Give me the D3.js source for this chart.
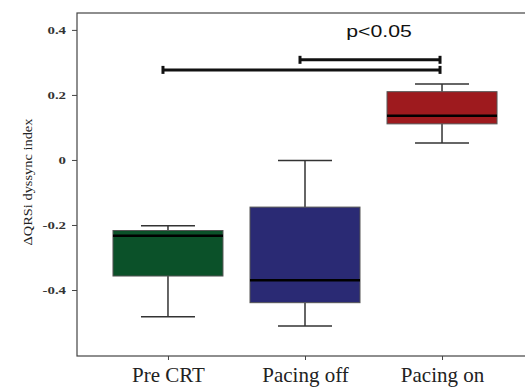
<!DOCTYPE html>
<html>
<head>
<meta charset="utf-8">
<script src="https://cdn.jsdelivr.net/npm/d3@7"></script>
<style>
  body { margin: 0; background: #fff; }
</style>
</head>
<body>
<div id="chart"></div>
<script>
var groups = ["Pre CRT", "Pacing off", "Pacing on"];
var whiskerLow  = [-0.482, -0.511, 0.052];
var boxLow      = [-0.357, -0.439, 0.111];
var medians     = [-0.233, -0.370, 0.136];
var boxHigh     = [-0.217, -0.145, 0.210];
var whiskerHigh = [-0.202, -0.002, 0.234];
var boxColors   = ["#0b5129", "#2a2a74", "#9e1a1e"];
var yTicks = [0.4, 0.2, 0, -0.2, -0.4];
var yTickLabels = ["0.4", "0.2", "0", "-0.2", "-0.4"];
// significance brackets: from, to, height
var sigFrom = ["Pre CRT", "Pacing off"];
var sigTo   = ["Pacing on", "Pacing on"];
var sigY    = [0.277, 0.308];

var width = 525, height = 388;
var plotLeft = 77, plotTop = 13, plotBottom = 356, plotRight = 533;

var svg = d3.select("#chart").append("svg")
  .attr("width", width)
  .attr("height", height);

var x = d3.scalePoint().domain(groups).range([plotLeft, plotRight]).padding(0.664);
var y = d3.scaleLinear().domain([-0.603, 0.452]).range([plotBottom, plotTop]);
var boxW = 110, capW = 54;

// frame
svg.append("rect")
  .attr("x", plotLeft).attr("y", plotTop)
  .attr("width", plotRight - plotLeft).attr("height", plotBottom - plotTop)
  .attr("fill", "none").attr("stroke", "#444").attr("stroke-width", 1.2);

// y axis (labels look horizontally stretched in the original)
var yAxis = svg.append("g")
  .attr("transform", "translate(" + plotLeft + ",0)")
  .call(d3.axisLeft(y).tickValues(yTicks).tickSize(5).tickSizeOuter(0)
    .tickFormat(function (d, i) { return yTickLabels[i]; }));
yAxis.select(".domain").remove();
yAxis.selectAll("line").attr("stroke", "#444");
yAxis.selectAll("text")
  .attr("x", -11 / 1.35).attr("fill", "#333")
  .attr("transform", "scale(1.35,1)")
  .style("font-family", "Liberation Serif, serif")
  .style("font-size", "11px")
  .style("font-weight", "bold");

// x axis
var xAxis = svg.append("g")
  .attr("transform", "translate(0," + plotBottom + ")")
  .call(d3.axisBottom(x).tickSize(4).tickSizeOuter(0));
xAxis.select(".domain").remove();
xAxis.selectAll("line").attr("stroke", "#444");
xAxis.selectAll("text")
  .attr("y", 11).attr("dy", "0.71em").attr("fill", "#222")
  .style("font-family", "Liberation Serif, serif")
  .style("font-size", "21px")
  .style("font-weight", "normal");

// y title
svg.append("text")
  .attr("transform", "translate(32,182) rotate(-90) scale(1.2,1)")
  .attr("text-anchor", "middle")
  .style("font-family", "Liberation Serif, serif")
  .style("font-size", "12px")
  .attr("fill", "#222")
  .text("\u0394QRSi dyssync index");

// boxes
var box = svg.selectAll(".box")
  .data(groups)
  .enter().append("g")
  .attr("class", "box");

box.append("line")
  .attr("x1", d => x(d)).attr("x2", d => x(d))
  .attr("y1", (d, i) => y(whiskerHigh[i])).attr("y2", (d, i) => y(boxHigh[i]))
  .attr("stroke", "#333").attr("stroke-width", 1.5);
box.append("line")
  .attr("x1", d => x(d)).attr("x2", d => x(d))
  .attr("y1", (d, i) => y(boxLow[i])).attr("y2", (d, i) => y(whiskerLow[i]))
  .attr("stroke", "#333").attr("stroke-width", 1.5);
box.selectAll(".cap")
  .data((d, i) => [[d, whiskerHigh[i]], [d, whiskerLow[i]]])
  .enter().append("line")
  .attr("x1", d => x(d[0]) - capW / 2).attr("x2", d => x(d[0]) + capW / 2)
  .attr("y1", d => y(d[1])).attr("y2", d => y(d[1]))
  .attr("stroke", "#333").attr("stroke-width", 1.5);
box.append("rect")
  .attr("x", d => x(d) - boxW / 2)
  .attr("y", (d, i) => y(boxHigh[i]))
  .attr("width", boxW)
  .attr("height", (d, i) => y(boxLow[i]) - y(boxHigh[i]))
  .attr("fill", (d, i) => boxColors[i])
  .attr("stroke", "#555").attr("stroke-width", 1);
box.append("line")
  .attr("x1", d => x(d) - boxW / 2).attr("x2", d => x(d) + boxW / 2)
  .attr("y1", (d, i) => y(medians[i])).attr("y2", (d, i) => y(medians[i]))
  .attr("stroke", "#000").attr("stroke-width", 2.5);

// significance brackets
var sig = svg.selectAll(".sig")
  .data(sigY)
  .enter().append("g")
  .attr("class", "sig");
sig.append("line")
  .attr("x1", (d, i) => x(sigFrom[i]) - 5).attr("x2", (d, i) => x(sigTo[i]) - 2)
  .attr("y1", d => y(d)).attr("y2", d => y(d))
  .attr("stroke", "#111").attr("stroke-width", 3);
sig.selectAll(".end")
  .data((d, i) => [[x(sigFrom[i]) - 5, d], [x(sigTo[i]) - 2, d]])
  .enter().append("line")
  .attr("x1", d => d[0]).attr("x2", d => d[0])
  .attr("y1", d => y(d[1]) - 4).attr("y2", d => y(d[1]) + 4)
  .attr("stroke", "#111").attr("stroke-width", 3);

svg.append("text")
  .attr("transform", "translate(379,37) scale(1.25,1)")
  .attr("text-anchor", "middle")
  .style("font-family", "Liberation Sans, Arial, sans-serif")
  .style("font-size", "17px")
  .attr("fill", "#111")
  .text("p<0.05");
</script>
</body>
</html>
